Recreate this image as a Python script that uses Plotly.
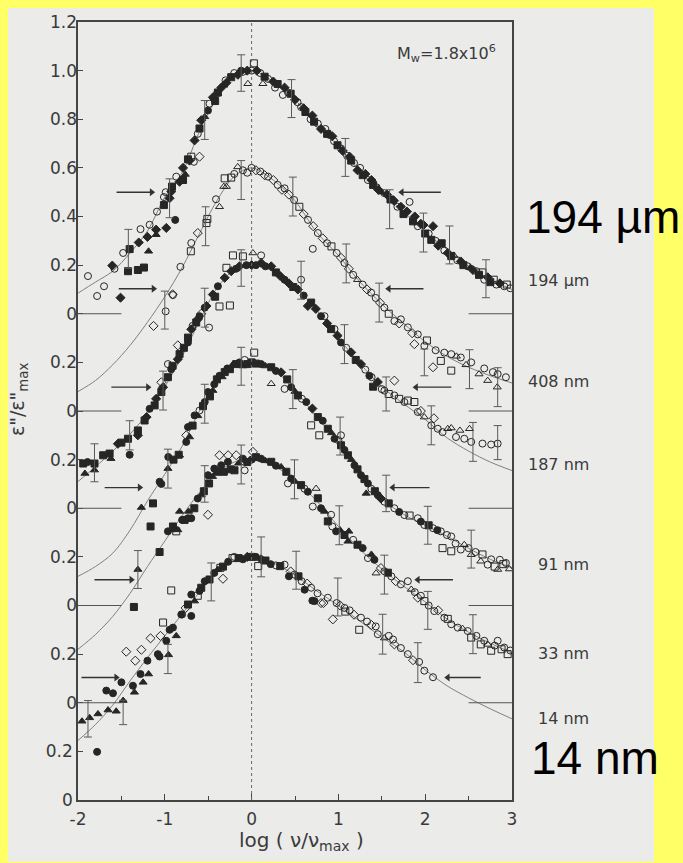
import plotly.graph_objects as go

# ---------------- data (normalised eps''/eps''max for each film, own baseline) -------------
labels = ["194 µm", "408 nm", "187 nm", "91 nm", "33 nm", "14 nm"]
offsets = [2.0, 1.6, 1.2, 0.8, 0.4, 0.0]          # vertical shift of each curve
label_y = [0.136, 0.12, 0.18, 0.168, 0.203, 0.337]  # label height on each curve's own scale

top_ticks = [0, 0.2, 0.4, 0.6, 0.8, 1.0, 1.2]
top_ticktext = ["0", "0.2", "0.4", "0.6", "0.8", "1.0", "1.2"]
low_ticks = [0, 0.2]
low_ticktext = ["0", "0.2"]
x_ticks = [-2, -1, 0, 1, 2, 3]
x_ticktext = ["-2", "-1", "0", "1", "2", "3"]

fit_x = [-2.0, -1.8, -1.6, -1.4, -1.2, -1.0, -0.8, -0.6, -0.4, -0.2, 0.0,
         0.25, 0.5, 0.75, 1.0, 1.25, 1.5, 1.75, 2.0, 2.25, 2.5, 2.75, 3.0]
fit1_y = [0.085, 0.13, 0.175, 0.25, 0.34, 0.48, 0.58, 0.75, 0.89, 0.975, 1.0,
          0.955, 0.88, 0.78, 0.69, 0.585, 0.50, 0.42, 0.335, 0.265, 0.195, 0.14, 0.10]
fit2_y = [0.08, 0.125, 0.19, 0.27, 0.365, 0.47, 0.59, 0.73, 0.865, 0.965, 1.0,
          0.95, 0.865, 0.735, 0.64, 0.53, 0.44, 0.36, 0.285, 0.225, 0.18, 0.145, 0.115]
fit3_y = [0.11, 0.17, 0.235, 0.305, 0.39, 0.50, 0.625, 0.77, 0.905, 0.98, 1.0,
          0.975, 0.91, 0.815, 0.70, 0.595, 0.50, 0.43, 0.365, 0.29, 0.235, 0.19, 0.155]
fit4_y = [0.12, 0.16, 0.215, 0.31, 0.43, 0.54, 0.655, 0.80, 0.92, 0.985, 1.0,
          0.97, 0.885, 0.775, 0.675, 0.55, 0.44, 0.375, 0.33, 0.285, 0.235, 0.19, 0.155]
fit5_y = [0.22, 0.28, 0.355, 0.45, 0.56, 0.665, 0.77, 0.865, 0.945, 0.99, 1.0,
          0.975, 0.915, 0.83, 0.725, 0.63, 0.55, 0.48, 0.415, 0.345, 0.29, 0.245, 0.205]
fit6_y = [0.245, 0.31, 0.39, 0.49, 0.585, 0.675, 0.765, 0.855, 0.94, 0.985, 1.0,
          0.975, 0.925, 0.86, 0.80, 0.735, 0.67, 0.61, 0.535, 0.47, 0.42, 0.375, 0.334]

# point sets: oc/os/ot/od = open circle/square/triangle/diamond, fc/fs/ft/fd = filled
c1_x = [-1.885, -1.78, -1.70, -1.605, -1.58, -1.51, -1.48, -1.405, -1.424, -1.31, -1.24, -1.30, -1.28,
        -1.20, -1.187, -1.175, -1.10, -1.10, -1.09, -1.01, -1.01, -0.99, -0.983, -0.945, -0.925, -0.917,
        -0.88, -0.868, -0.83, -0.79, -0.79, -0.764, -0.733, -0.715, -0.695, -0.665, -0.657, -0.62, -0.60,
        -0.60, -0.58, -0.54, -0.503, -0.485, -0.446, -0.42, -0.40, -0.388, -0.35, -0.32, -0.30, -0.29,
        -0.235, -0.20, -0.158, -0.12, -0.10, -0.05, -0.043, 0.0, 0.026,
        0.06, 0.10, 0.13, 0.15, 0.19, 0.25, 0.27, 0.30, 0.36, 0.38, 0.42, 0.45, 0.50, 0.53, 0.57, 0.60,
        0.62, 0.68, 0.70, 0.72, 0.763, 0.80, 0.85, 0.87, 0.90, 0.93, 0.95, 0.99, 1.03, 1.05, 1.10, 1.13,
        1.147, 1.18, 1.22, 1.25, 1.28, 1.31, 1.34, 1.38, 1.40, 1.44, 1.46, 1.50, 1.53, 1.56, 1.60, 1.64,
        1.68, 1.72, 1.75, 1.79, 1.82, 1.86, 1.88, 1.915, 1.95, 1.98, 2.00, 2.04, 2.07, 2.09, 2.12, 2.15,
        2.19, 2.22, 2.26, 2.30, 2.33, 2.37, 2.41, 2.44, 2.49, 2.52, 2.55, 2.59, 2.62, 2.66, 2.68, 2.72,
        2.75, 2.79, 2.82, 2.86, 2.91, 2.94, 2.98]
c1_y = [0.155, 0.073, 0.113, 0.198, 0.185, 0.066, 0.25, 0.266, 0.175, 0.18, 0.19, 0.293, 0.348,
        0.316, 0.257, 0.366, 0.346, 0.325, 0.42, 0.447, 0.48, 0.50, 0.353, 0.475, 0.503, 0.523,
        0.386, 0.564, 0.543, 0.55, 0.60, 0.573, 0.635, 0.63, 0.646, 0.625, 0.713, 0.74, 0.646,
        0.762, 0.796, 0.81, 0.836, 0.864, 0.89, 0.875, 0.905, 0.91, 0.93, 0.94, 0.96, 0.95,
        0.973, 0.99, 0.983, 1.0, 0.995, 1.0, 0.946, 1.0, 1.03,
        1.0, 0.99, 0.946, 0.975, 0.966, 0.955, 0.93, 0.945, 0.90, 0.93, 0.91, 0.905, 0.88, 0.87, 0.85, 0.845,
        0.83, 0.80, 0.815, 0.79, 0.782, 0.76, 0.76, 0.74, 0.735, 0.73, 0.71, 0.693, 0.68, 0.67, 0.65, 0.646,
        0.63, 0.62, 0.59, 0.60, 0.57, 0.575, 0.55, 0.55, 0.53, 0.52, 0.51, 0.50, 0.496, 0.49, 0.47, 0.465,
        0.44, 0.44, 0.41, 0.42, 0.46, 0.38, 0.40, 0.36, 0.37, 0.365, 0.33, 0.33, 0.304, 0.36, 0.30, 0.28,
        0.29, 0.26, 0.25, 0.237, 0.24, 0.22, 0.215, 0.20, 0.195, 0.19, 0.18, 0.175, 0.16, 0.17, 0.14, 0.15,
        0.13, 0.14, 0.12, 0.125, 0.113, 0.12, 0.105]
c1_set = ["oc", "oc", "oc", "fd", "oc", "fd", "oc", "fs", "fs", "fs", "fs", "fd", "oc",
          "fd", "ft", "oc", "fd", "ft", "oc", "fs", "oc", "oc", "fd", "fd", "fd", "fs",
          "fc", "oc", "fd", "fs", "fd", "ft", "fs", "fd", "os", "oc", "fd", "oc", "od",
          "fs", "fd", "ft", "fc", "oc", "fd", "fs", "oc", "fs", "fd", "ft", "oc", "fd",
          "fs", "oc", "fd", "fc", "oc", "fd", "ot", "oc", "os",
          "fd", "oc", "ot", "fs", "oc", "fd", "oc", "fs", "oc", "fd", "oc", "fs", "fd", "oc", "oc", "fd",
          "fs", "oc", "fd", "fs", "oc", "fd", "oc", "fs", "oc", "fd", "oc", "fs", "oc", "fd", "oc", "fd",
          "fs", "oc", "fd", "oc", "fs", "fd", "oc", "fd", "fs", "oc", "fd", "ft", "oc", "fd", "fs", "fd",
          "oc", "fd", "fs", "fd", "oc", "fs", "fd", "oc", "fd", "fd", "fs", "oc", "fs", "fd", "oc", "fd",
          "fs", "oc", "fd", "fs", "ot", "oc", "fd", "fs", "oc", "ft", "fd", "oc", "fs", "os", "oc", "fd",
          "fs", "os", "oc", "fd", "oc", "os", "oc"]

c2_x = [-1.13, -0.99, -0.906, -0.91, -0.82, -0.70, -0.695, -0.62, -0.52, -0.51, -0.41, -0.37, -0.32,
        -0.29, -0.31, -0.235, -0.20, -0.16, -0.10, -0.05, 0.0,
        0.05, 0.10, 0.15, 0.19, 0.25, 0.30, 0.35, 0.38, 0.43, 0.49, 0.55, 0.60, 0.65, 0.705, 0.71, 0.763,
        0.82, 0.87, 0.92, 0.98, 1.03, 1.07, 1.12, 1.17, 1.22, 1.28, 1.33, 1.377, 1.43, 1.48, 1.53, 1.58,
        1.645, 1.70, 1.72, 1.80, 1.85, 1.875, 1.915, 1.99, 2.02, 2.09, 2.12, 2.18, 2.22, 2.30, 2.30, 2.36,
        2.41, 2.47, 2.53, 2.62, 2.68, 2.72, 2.78, 2.835, 2.83, 2.93]
c2_y = [0.35, 0.41, 0.477, 0.48, 0.593, 0.657, 0.691, 0.732, 0.773, 0.79, 0.871, 0.84, 0.923,
        0.923, 0.957, 0.96, 0.975, 1.004, 0.99, 0.98, 1.0,
        0.99, 0.985, 0.97, 0.964, 0.95, 0.93, 0.91, 0.916, 0.89, 0.868, 0.84, 0.81, 0.786, 0.667, 0.76, 0.732,
        0.71, 0.69, 0.677, 0.65, 0.63, 0.609, 0.585, 0.56, 0.54, 0.52, 0.50, 0.487, 0.465, 0.445, 0.425, 0.40,
        0.37, 0.36, 0.377, 0.344, 0.32, 0.275, 0.315, 0.268, 0.29, 0.18, 0.25, 0.206, 0.24, 0.166, 0.234, 0.225,
        0.22, 0.19, 0.20, 0.152, 0.175, 0.125, 0.16, 0.152, 0.098, 0.139]
c2_set = ["od", "oc", "oc", "od", "oc", "os", "oc", "od", "os", "os", "oc", "ot", "ot",
          "ot", "os", "os", "oc", "ot", "oc", "oc", "oc",
          "od", "oc", "od", "oc", "od", "oc", "od", "oc", "od", "oc", "os", "od", "oc", "oc", "od", "oc",
          "od", "oc", "os", "oc", "od", "oc", "od", "oc", "ot", "oc", "od", "oc", "oc", "od", "oc", "os",
          "oc", "od", "oc", "oc", "od", "od", "oc", "oc", "os", "od", "oc", "os", "oc", "os", "oc", "ot",
          "oc", "ot", "oc", "ot", "oc", "ot", "oc", "oc", "ot", "oc"]

c3_x = [-1.94, -1.92, -1.89, -1.81, -1.81, -1.71, -1.636, -1.62, -1.54, -1.50, -1.424, -1.405, -1.31,
        -1.31, -1.233, -1.21, -1.175, -1.117, -1.10, -1.04, -1.02, -1.04, -0.964, -0.926, -0.91, -0.964,
        -0.85, -0.83, -0.85, -0.78, -0.733, -0.733, -0.695, -0.68, -0.638, -0.62, -0.60, -0.58, -0.54,
        -0.52, -0.49, -0.446, -0.42, -0.388, -0.37, -0.31, -0.29, -0.25, -0.235, -0.215, -0.18, -0.14,
        -0.10, -0.06, 0.015, 0.0,
        0.05, 0.11, 0.11, 0.16, 0.226, 0.28, 0.33, 0.38, 0.43, 0.48, 0.533, 0.57, 0.60, 0.648, 0.686,
        0.74, 0.80, 0.84, 0.87, 0.916, 0.955, 0.99, 1.03, 1.09, 1.147, 1.20, 1.26, 1.31, 1.357, 1.383,
        1.40, 1.454, 1.50, 1.53, 1.58, 1.645, 1.645, 1.70, 1.76, 1.80, 1.875, 1.915, 1.95, 1.99, 2.07,
        2.10, 2.145, 2.20, 2.26, 2.30, 2.355, 2.40, 2.45, 2.51, 2.53, 2.66, 2.76, 2.835]
c3_y = [0.184, 0.143, 0.19, 0.184, 0.157, 0.218, 0.225, 0.204, 0.265, 0.27, 0.286, 0.22, 0.30,
        0.32, 0.361, 0.375, 0.409, 0.423, 0.45, 0.478, 0.498, 0.518, 0.539, 0.572, 0.586, 0.593,
        0.613, 0.634, 0.67, 0.66, 0.682, 0.702, 0.736, 0.75, 0.764, 0.777, 0.79, 0.80, 0.825,
        0.832, 0.743, 0.879, 0.87, 0.913, 0.83, 0.948, 0.989, 0.834, 0.975, 1.04, 0.985, 0.995,
        1.036, 1.0, 1.05, 1.0,
        1.0, 1.009, 1.04, 0.995, 0.995, 0.97, 0.955, 0.94, 0.925, 0.91, 0.90, 0.94, 0.875, 0.832, 0.846,
        0.82, 0.79, 0.79, 0.76, 0.737, 0.737, 0.71, 0.682, 0.66, 0.641, 0.61, 0.593, 0.57, 0.545, 0.539,
        0.50, 0.519, 0.49, 0.484, 0.47, 0.464, 0.525, 0.45, 0.437, 0.443, 0.437, 0.396, 0.40, 0.375, 0.341,
        0.37, 0.327, 0.313, 0.327, 0.33, 0.293, 0.32, 0.286, 0.327, 0.273, 0.266, 0.262, 0.266]
c3_set = ["fs", "ft", "fc", "fs", "ft", "fs", "fs", "ft", "fd", "fs", "fs", "fc", "fd",
          "fs", "fs", "fd", "fc", "fs", "fd", "fs", "fd", "od", "fs", "fc", "fs", "oc",
          "fd", "fs", "od", "fs", "fc", "fs", "fd", "oc", "fs", "fd", "fc", "od", "fc",
          "fd", "oc", "fd", "fs", "fc", "os", "fd", "os", "os", "fd", "os", "fc", "fd",
          "os", "fc", "ot", "fd",
          "fc", "fd", "oc", "fc", "fd", "fs", "fd", "fc", "fd", "fs", "fd", "oc", "fc", "fd", "fs",
          "fd", "fc", "oc", "fd", "fs", "oc", "fd", "fc", "oc", "fd", "fs", "fd", "oc", "fc", "oc",
          "fs", "fd", "oc", "oc", "os", "oc", "od", "os", "oc", "os", "os", "oc", "od", "ot", "oc",
          "od", "oc", "oc", "ot", "ot", "oc", "ot", "oc", "ot", "oc", "oc", "oc", "oc"]

c4_x = [-1.27, -1.136, -1.06, -1.04, -0.964, -0.96, -0.90, -0.84, -0.83, -0.753, -0.753, -0.733, -0.715,
        -0.68, -0.657, -0.62, -0.60, -0.56, -0.54, -0.503, -0.48, -0.446, -0.43, -0.40, -0.37, -0.34,
        -0.31, -0.28, -0.25, -0.22, -0.177, -0.14, -0.10, -0.08, -0.05, 0.0, 0.03,
        0.05, 0.11, 0.16, 0.226, 0.226, 0.28, 0.34, 0.38, 0.41, 0.456, 0.50, 0.533, 0.58, 0.63, 0.686,
        0.70, 0.763, 0.78, 0.82, 0.878, 0.92, 0.955, 1.00, 1.03, 1.03, 1.07, 1.11, 1.15, 1.185, 1.22,
        1.26, 1.30, 1.32, 1.34, 1.38, 1.42, 1.454, 1.49, 1.53, 1.58, 1.645, 1.70, 1.76, 1.82, 1.915,
        1.95, 1.99, 2.04, 2.09, 2.14, 2.18, 2.20, 2.25, 2.30, 2.30, 2.35, 2.41, 2.45, 2.50, 2.53, 2.58,
        2.64, 2.66, 2.72, 2.76, 2.80, 2.835, 2.86, 2.90, 2.93, 2.97]
c4_y = [0.403, 0.42, 0.509, 0.50, 0.563, 0.611, 0.60, 0.62, 0.618, 0.673, 0.70, 0.734, 0.693,
        0.74, 0.782, 0.78, 0.802, 0.82, 0.837, 0.878, 0.86, 0.884, 0.91, 0.93, 0.945, 0.94,
        0.96, 0.975, 0.972, 0.99, 0.993, 1.0, 0.985, 1.01, 0.993, 1.0, 1.04,
        0.995, 0.993, 0.985, 0.98, 0.912, 0.965, 0.959, 0.891, 0.93, 0.898, 0.88, 0.864, 0.85, 0.837, 0.741,
        0.81, 0.775, 0.70, 0.76, 0.727, 0.71, 0.686, 0.68, 0.70, 0.659, 0.64, 0.618, 0.60, 0.577, 0.56,
        0.536, 0.52, 0.461, 0.502, 0.48, 0.47, 0.454, 0.44, 0.427, 0.42, 0.40, 0.385, 0.372, 0.37, 0.359,
        0.345, 0.331, 0.33, 0.318, 0.31, 0.305, 0.236, 0.29, 0.284, 0.223, 0.255, 0.23, 0.25, 0.236, 0.209, 0.22,
        0.182, 0.21, 0.168, 0.19, 0.16, 0.148, 0.188, 0.17, 0.175, 0.15]
c4_set = ["ft", "fs", "fc", "fc", "ft", "fc", "fs", "fs", "ft", "fc", "od", "fc", "ft",
          "fs", "fc", "ft", "oc", "fs", "fc", "fc", "fs", "ft", "fc", "fs", "fc", "ft",
          "fs", "fc", "fs", "ft", "fs", "fc", "ft", "oc", "fs", "fs", "os",
          "fs", "fc", "ft", "fs", "ot", "fc", "fd", "oc", "fs", "fc", "ft", "fs", "oc", "fc", "os",
          "fd", "fs", "os", "fc", "fs", "ft", "fc", "oc", "oc", "fs", "fc", "fs", "ft", "fc", "fs",
          "fc", "fs", "ft", "fc", "oc", "fs", "fc", "fd", "oc", "fs", "oc", "fc", "oc", "os", "oc",
          "fc", "oc", "fs", "oc", "fc", "oc", "os", "oc", "oc", "os", "oc", "oc", "ot", "oc", "ot", "oc",
          "ot", "os", "oc", "oc", "os", "ot", "oc", "os", "oc", "ot"]

c5_x = [-1.356, -1.31, -1.164, -1.06, -0.964, -0.93, -0.906, -0.868, -0.85, -0.83, -0.80, -0.772, -0.733,
        -0.726, -0.695, -0.66, -0.62, -0.58, -0.55, -0.503, -0.503, -0.49, -0.45, -0.43, -0.40, -0.37,
        -0.35, -0.32, -0.273, -0.27, -0.24, -0.197, -0.177, -0.15, -0.10, -0.08, -0.05, 0.015, 0.0,
        0.05, 0.11, 0.16, 0.226, 0.28, 0.34, 0.40, 0.418, 0.456, 0.50, 0.57, 0.61, 0.648, 0.705, 0.743,
        0.763, 0.80, 0.84, 0.878, 0.916, 0.93, 0.974, 1.02, 1.07, 1.11, 1.12, 1.17, 1.22, 1.28, 1.34,
        1.38, 1.415, 1.434, 1.49, 1.53, 1.57, 1.61, 1.66, 1.72, 1.80, 1.84, 1.88, 1.915, 1.95, 1.99,
        2.04, 2.105, 2.15, 2.22, 2.26, 2.30, 2.375, 2.43, 2.49, 2.53, 2.59, 2.64, 2.68, 2.72, 2.76,
        2.80, 2.835, 2.88, 2.91, 2.95, 2.98]
c5_y = [0.394, 0.548, 0.725, 0.62, 0.705, 0.711, 0.725, 0.705, 0.711, 0.787, 0.752, 0.752, 0.759,
        0.787, 0.759, 0.80, 0.84, 0.854, 0.87, 0.936, 0.773, 0.902, 0.93, 0.963, 0.95, 1.018,
        0.977, 0.95, 0.991, 1.018, 0.96, 0.956, 1.018, 0.985, 1.004, 0.956, 0.99, 1.032, 1.0,
        1.01, 1.004, 0.995, 0.991, 0.975, 0.97, 0.95, 0.902, 0.922, 0.91, 0.895, 0.88, 0.868, 0.807, 0.881,
        0.841, 0.80, 0.787, 0.746, 0.773, 0.725, 0.705, 0.71, 0.69, 0.664, 0.705, 0.67, 0.65, 0.636, 0.595,
        0.61, 0.588, 0.533, 0.554, 0.541, 0.535, 0.52, 0.50, 0.487, 0.50, 0.466, 0.455, 0.432, 0.44, 0.418,
        0.40, 0.377, 0.38, 0.35, 0.345, 0.323, 0.309, 0.305, 0.295, 0.268, 0.275, 0.24, 0.255, 0.24, 0.214,
        0.235, 0.255, 0.22, 0.227, 0.20, 0.215]
c5_set = ["fs", "ft", "fs", "fs", "fc", "ft", "fs", "os", "ft", "ft", "fc", "fs", "fc",
          "ft", "fc", "fs", "fc", "ft", "fs", "fc", "od", "fs", "ft", "fc", "fs", "od",
          "fc", "fs", "fc", "od", "fs", "fs", "od", "ft", "fc", "oc", "fs", "od", "fc",
          "fs", "fc", "ft", "fs", "fc", "ft", "fs", "oc", "fc", "ft", "fs", "oc", "fc", "oc", "ot",
          "fs", "fc", "ft", "fs", "oc", "oc", "fc", "ft", "fs", "ft", "ft", "oc", "fs", "fc", "oc",
          "ft", "fc", "ot", "od", "oc", "fs", "oc", "od", "oc", "oc", "ot", "oc", "od", "oc", "os",
          "oc", "oc", "od", "oc", "os", "oc", "oc", "ot", "oc", "os", "oc", "os", "oc", "ot", "os",
          "oc", "oc", "os", "oc", "os", "oc"]

c6_x = [-1.954, -1.866, -1.78, -1.77, -1.674, -1.654, -1.597, -1.56, -1.50, -1.48, -1.444, -1.367, -1.35,
        -1.34, -1.28, -1.27, -1.25, -1.20, -1.187, -1.164, -1.08, -1.06, -1.05, -1.02, -0.983, -0.957,
        -0.945, -0.926, -0.906, -0.868, -0.81, -0.80, -0.76, -0.733, -0.695, -0.695, -0.657, -0.62, -0.60,
        -0.58, -0.54, -0.485, -0.43, -0.39, -0.36, -0.33, -0.33, -0.27, -0.22, -0.20, -0.15, -0.10, -0.05, 0.0,
        0.05, 0.076, 0.11, 0.16, 0.22, 0.28, 0.33, 0.38, 0.43, 0.45, 0.494, 0.54, 0.577, 0.61, 0.64, 0.686,
        0.70, 0.725, 0.76, 0.80, 0.828, 0.878, 0.936, 0.98, 1.02, 1.07, 1.08, 1.13, 1.18, 1.24, 1.26,
        1.33, 1.38, 1.43, 1.454, 1.53, 1.58, 1.63, 1.645, 1.72, 1.80, 1.86, 1.93, 1.99, 2.09]
c6_y = [0.324, 0.338, 0.198, 0.354, 0.45, 0.37, 0.439, 0.365, 0.484, 0.409, 0.61, 0.47, 0.443,
        0.573, 0.518, 0.618, 0.484, 0.573, 0.518, 0.665, 0.60, 0.59, 0.675, 0.73, 0.655, 0.597,
        0.70, 0.862, 0.709, 0.675, 0.763, 0.763, 0.79, 0.804, 0.845, 0.757, 0.818, 0.84, 0.86,
        0.873, 0.90, 0.907, 0.934, 0.948, 0.955, 0.96, 0.91, 0.98, 0.995, 1.0, 0.995, 0.99, 1.0, 1.0,
        1.0, 0.962, 0.99, 0.985, 0.97, 0.965, 0.962, 0.968, 0.92, 0.94, 0.927, 0.92, 0.90, 0.865, 0.89, 0.873,
        0.82, 0.818, 0.85, 0.81, 0.81, 0.832, 0.743, 0.81, 0.80, 0.79, 0.775, 0.78, 0.762, 0.70, 0.75,
        0.734, 0.72, 0.714, 0.682, 0.666, 0.675, 0.66, 0.64, 0.625, 0.60, 0.575, 0.568, 0.532, 0.505]
c6_set = ["ft", "ft", "fc", "ft", "fc", "ft", "fc", "ft", "fc", "ft", "od", "fc", "ft",
          "od", "fc", "od", "ft", "fc", "ft", "od", "fc", "fc", "od", "os", "fc", "ft",
          "fc", "os", "fc", "ft", "fc", "oc", "od", "fs", "fc", "fc", "ft", "os", "fc",
          "fs", "fc", "fs", "fc", "ft", "os", "fs", "od", "fc", "os", "oc", "fs", "fc", "fd", "fs",
          "fc", "os", "fd", "fs", "fc", "oc", "fs", "oc", "fc", "od", "oc", "fs", "oc", "fc", "od", "oc",
          "fc", "fc", "oc", "od", "od", "oc", "od", "oc", "od", "oc", "os", "oc", "od", "os", "oc",
          "oc", "od", "oc", "oc", "ot", "oc", "oc", "od", "oc", "oc", "od", "oc", "oc", "oc"]

# error bars: position, centre value, half-length
e1_x = [-1.42, -0.945, -0.54, -0.12, 0.46, 1.08, 1.59, 1.98, 2.28, 2.70]
e1_y = [0.267, 0.475, 0.797, 0.99, 0.885, 0.643, 0.43, 0.334, 0.283, 0.144]
e1_e = [0.08, 0.08, 0.08, 0.075, 0.078, 0.078, 0.08, 0.08, 0.078, 0.078]
e2_x = [-1.0, -0.53, -0.12, 0.475, 1.09, 1.47, 1.99, 2.51, 2.835]
e2_y = [0.415, 0.76, 0.95, 0.882, 0.607, 0.446, 0.20, 0.172, 0.098]
e2_e = [0.078, 0.08, 0.08, 0.08, 0.08, 0.08, 0.055, 0.08, 0.08]
e3_x = [-1.81, -1.405, -1.02, -0.54, -0.12, 0.57, 1.07, 1.55, 2.07, 2.55, 2.835]
e3_y = [0.187, 0.30, 0.484, 0.825, 0.988, 0.938, 0.675, 0.47, 0.341, 0.273, 0.27]
e3_e = [0.078, 0.06, 0.08, 0.08, 0.075, 0.078, 0.08, 0.07, 0.08, 0.08, 0.07]
e4_x = [-0.964, -0.54, -0.12, 0.475, 1.02, 1.55, 2.03, 2.53]
e4_y = [0.563, 0.83, 0.984, 0.89, 0.697, 0.461, 0.33, 0.232]
e4_e = [0.08, 0.08, 0.078, 0.08, 0.078, 0.075, 0.078, 0.078]
e5_x = [-1.31, -0.54, -0.12, 0.494, 1.01, 1.53, 2.03, 2.55]
e5_y = [0.548, 0.90, 0.98, 0.919, 0.73, 0.527, 0.38, 0.282]
e5_e = [0.078, 0.075, 0.08, 0.08, 0.08, 0.08, 0.078, 0.08]
e6_x = [-1.885, -1.48, -0.964, -0.465, 0.11, 0.513, 0.993, 1.51, 1.915]
e6_y = [0.334, 0.36, 0.58, 0.897, 1.0, 0.945, 0.835, 0.682, 0.565]
e6_e = [0.075, 0.05, 0.06, 0.078, 0.082, 0.078, 0.078, 0.082, 0.082]

# half-height arrows (each curve's own scale)
arr_y = [0.5, 0.503, 0.498, 0.485, 0.506, 0.504]
arrL_tail = [-1.556, -1.53, -1.616, -1.693, -1.81, -1.96]
arrL_tip = [-1.152, -1.13, -1.194, -1.29, -1.386, -1.56]
arrR_tail = [2.18, 1.98, 2.30, 2.05, 2.32, 2.64]
arrR_tip = [1.73, 1.58, 1.895, 1.627, 1.915, 2.26]

# ---------------- figure ----------------
W, H = 683, 863
ML, MR, MT, MB = 78, 171, 18, 63
PW, PH = W - ML - MR, H - MT - MB
def px_x(p):
    return (p - ML) / PW
def px_y(p):
    return (H - MB - p) / PH

INK = "#262626"
TXT = "#3a3a3a"
FONT = "DejaVu Sans"
sym_map = {"oc": "circle-open", "os": "square-open", "ot": "triangle-up-open", "od": "diamond-open",
           "fc": "circle", "fs": "square", "ft": "triangle-up", "fd": "diamond"}

curves_x = [c1_x, c2_x, c3_x, c4_x, c5_x, c6_x]
curves_y = [c1_y, c2_y, c3_y, c4_y, c5_y, c6_y]
curves_s = [c1_set, c2_set, c3_set, c4_set, c5_set, c6_set]
fits = [fit1_y, fit2_y, fit3_y, fit4_y, fit5_y, fit6_y]
errs = [(e1_x, e1_y, e1_e), (e2_x, e2_y, e2_e), (e3_x, e3_y, e3_e),
        (e4_x, e4_y, e4_e), (e5_x, e5_y, e5_e), (e6_x, e6_y, e6_e)]
# curve k -> its own y axis (curve 6 uses the main axis)
yname = ["y6", "y5", "y4", "y3", "y2", "y"]

fig = go.Figure()
for k in range(6):
    fig.add_trace(go.Scatter(x=fit_x, y=fits[k], mode="lines", yaxis=yname[k],
                             line=dict(color="#808080", width=1, shape="spline", smoothing=0.9),
                             hoverinfo="skip", showlegend=False))
for k in range(6):
    fig.add_trace(go.Scatter(x=curves_x[k], y=curves_y[k], mode="markers", yaxis=yname[k],
                             marker=dict(symbol=[sym_map[s] for s in curves_s[k]], size=7,
                                         color=INK, line=dict(color=INK, width=1)),
                             showlegend=False))
for k in range(6):
    ex, ey, ee = errs[k]
    fig.add_trace(go.Scatter(x=ex, y=ey, mode="markers", yaxis=yname[k],
                             marker=dict(size=1, color="rgba(0,0,0,0)"),
                             error_y=dict(type="data", array=ee, visible=True, color="#5a5a5a",
                                          thickness=1, width=4),
                             showlegend=False))
# arrow heads at half height
for k in range(6):
    fig.add_trace(go.Scatter(x=[arrL_tip[k], arrR_tip[k]], y=[arr_y[k], arr_y[k]], mode="markers",
                             yaxis=yname[k], hoverinfo="skip", showlegend=False,
                             marker=dict(symbol=["triangle-right", "triangle-left"], size=7,
                                         color="#333333", line=dict(width=0))))

# vertical dotted line at log(v/vmax)=0
fig.add_shape(type="line", xref="x", yref="y", x0=0, x1=0, y0=0, y1=3.2,
              line=dict(color="#6a6a6a", width=1, dash="dot"))
# baseline markers for the shifted curves
for k in range(5):
    for xa, xb in ((-2.0, -1.5), (2.5, 3.0)):
        fig.add_shape(type="line", xref="x", yref=yname[k], x0=xa, x1=xb, y0=0, y1=0,
                      line=dict(color="#555555", width=1))
# arrow shafts
for k in range(6):
    for tip, tail in ((arrL_tip[k], arrL_tail[k]), (arrR_tip[k], arrR_tail[k])):
        fig.add_shape(type="line", xref="x", yref=yname[k], x0=tail, x1=tip,
                      y0=arr_y[k], y1=arr_y[k], line=dict(color="#333333", width=1.4))

ann = []
for k in range(6):
    ann.append(dict(x=px_x(591), y=label_y[k], xref="paper", yref=yname[k], text=labels[k],
                    showarrow=False, xanchor="right", yanchor="middle",
                    font=dict(family=FONT, size=16, color=TXT)))
ann.append(dict(x=px_x(498), y=px_y(50), xref="paper", yref="paper",
                text="M<sub>w</sub>=1.8x10<sup>6</sup>", showarrow=False, xanchor="right",
                yanchor="middle", font=dict(family=FONT, size=16, color=TXT)))
ann.append(dict(x=px_x(18), y=px_y(397), xref="paper", yref="paper", textangle=-90,
                text="ε\"/ε\"<sub>max</sub>", showarrow=False, xanchor="center", yanchor="middle",
                font=dict(family=FONT, size=19, color=TXT)))
ann.append(dict(x=px_x(301), y=px_y(841), xref="paper", yref="paper",
                text="log ( ν/ν<sub>max</sub> )", showarrow=False, xanchor="center", yanchor="middle",
                font=dict(family=FONT, size=20, color=TXT)))
ann.append(dict(x=px_x(524), y=px_y(214), xref="paper", yref="paper", text="194 µm",
                showarrow=False, xanchor="left", yanchor="middle",
                font=dict(family="Liberation Sans", size=46, color="#000000")))
ann.append(dict(x=px_x(529), y=px_y(758), xref="paper", yref="paper", text="14 nm",
                showarrow=False, xanchor="left", yanchor="middle",
                font=dict(family="Liberation Sans", size=46, color="#000000")))

# grey paper panel
fig.add_shape(type="rect", xref="paper", yref="paper", layer="below",
              x0=px_x(8), x1=px_x(654), y0=px_y(862), y1=px_y(4),
              fillcolor="#ebebea", line=dict(width=0))

axis_common = dict(overlaying="y", anchor="x", side="left", showgrid=False, zeroline=False,
                   ticks="inside", ticklen=5, tickwidth=1, tickcolor="#444444",
                   tickfont=dict(family=FONT, size=17, color=TXT), showline=False)
layout_axes = {}
for k in range(5):
    name = "yaxis" + yname[k][1:]
    off = offsets[k]
    tv = top_ticks if k == 0 else low_ticks
    tt = top_ticktext if k == 0 else low_ticktext
    layout_axes[name] = dict(range=[-off, 3.2 - off], tickvals=tv, ticktext=tt, **axis_common)

fig.update_layout(
    width=W, height=H, margin=dict(l=ML, r=MR, t=MT, b=MB),
    paper_bgcolor="#ffff66", plot_bgcolor="#ebebea",
    xaxis=dict(range=[-2, 3], tickvals=x_ticks, ticktext=x_ticktext, ticks="inside", ticklen=6,
               tickwidth=1, tickcolor="#444444", showgrid=False, zeroline=False, showline=True,
               mirror=True, linecolor="#444444", linewidth=1.5, ticklabelstandoff=3,
               tickfont=dict(family=FONT, size=17, color=TXT),
               minor=dict(dtick=0.5, tick0=0.5, ticks="inside", ticklen=4, tickcolor="#444444")),
    yaxis=dict(range=[0, 3.2], tickvals=low_ticks, ticktext=low_ticktext, showgrid=False,
               zeroline=False, ticks="inside", ticklen=5, tickwidth=1, tickcolor="#444444",
               showline=True, mirror=True, linecolor="#444444", linewidth=1.5,
               tickfont=dict(family=FONT, size=17, color=TXT)),
    annotations=ann, showlegend=False,
    **layout_axes,
)
fig.write_html("out.html")
